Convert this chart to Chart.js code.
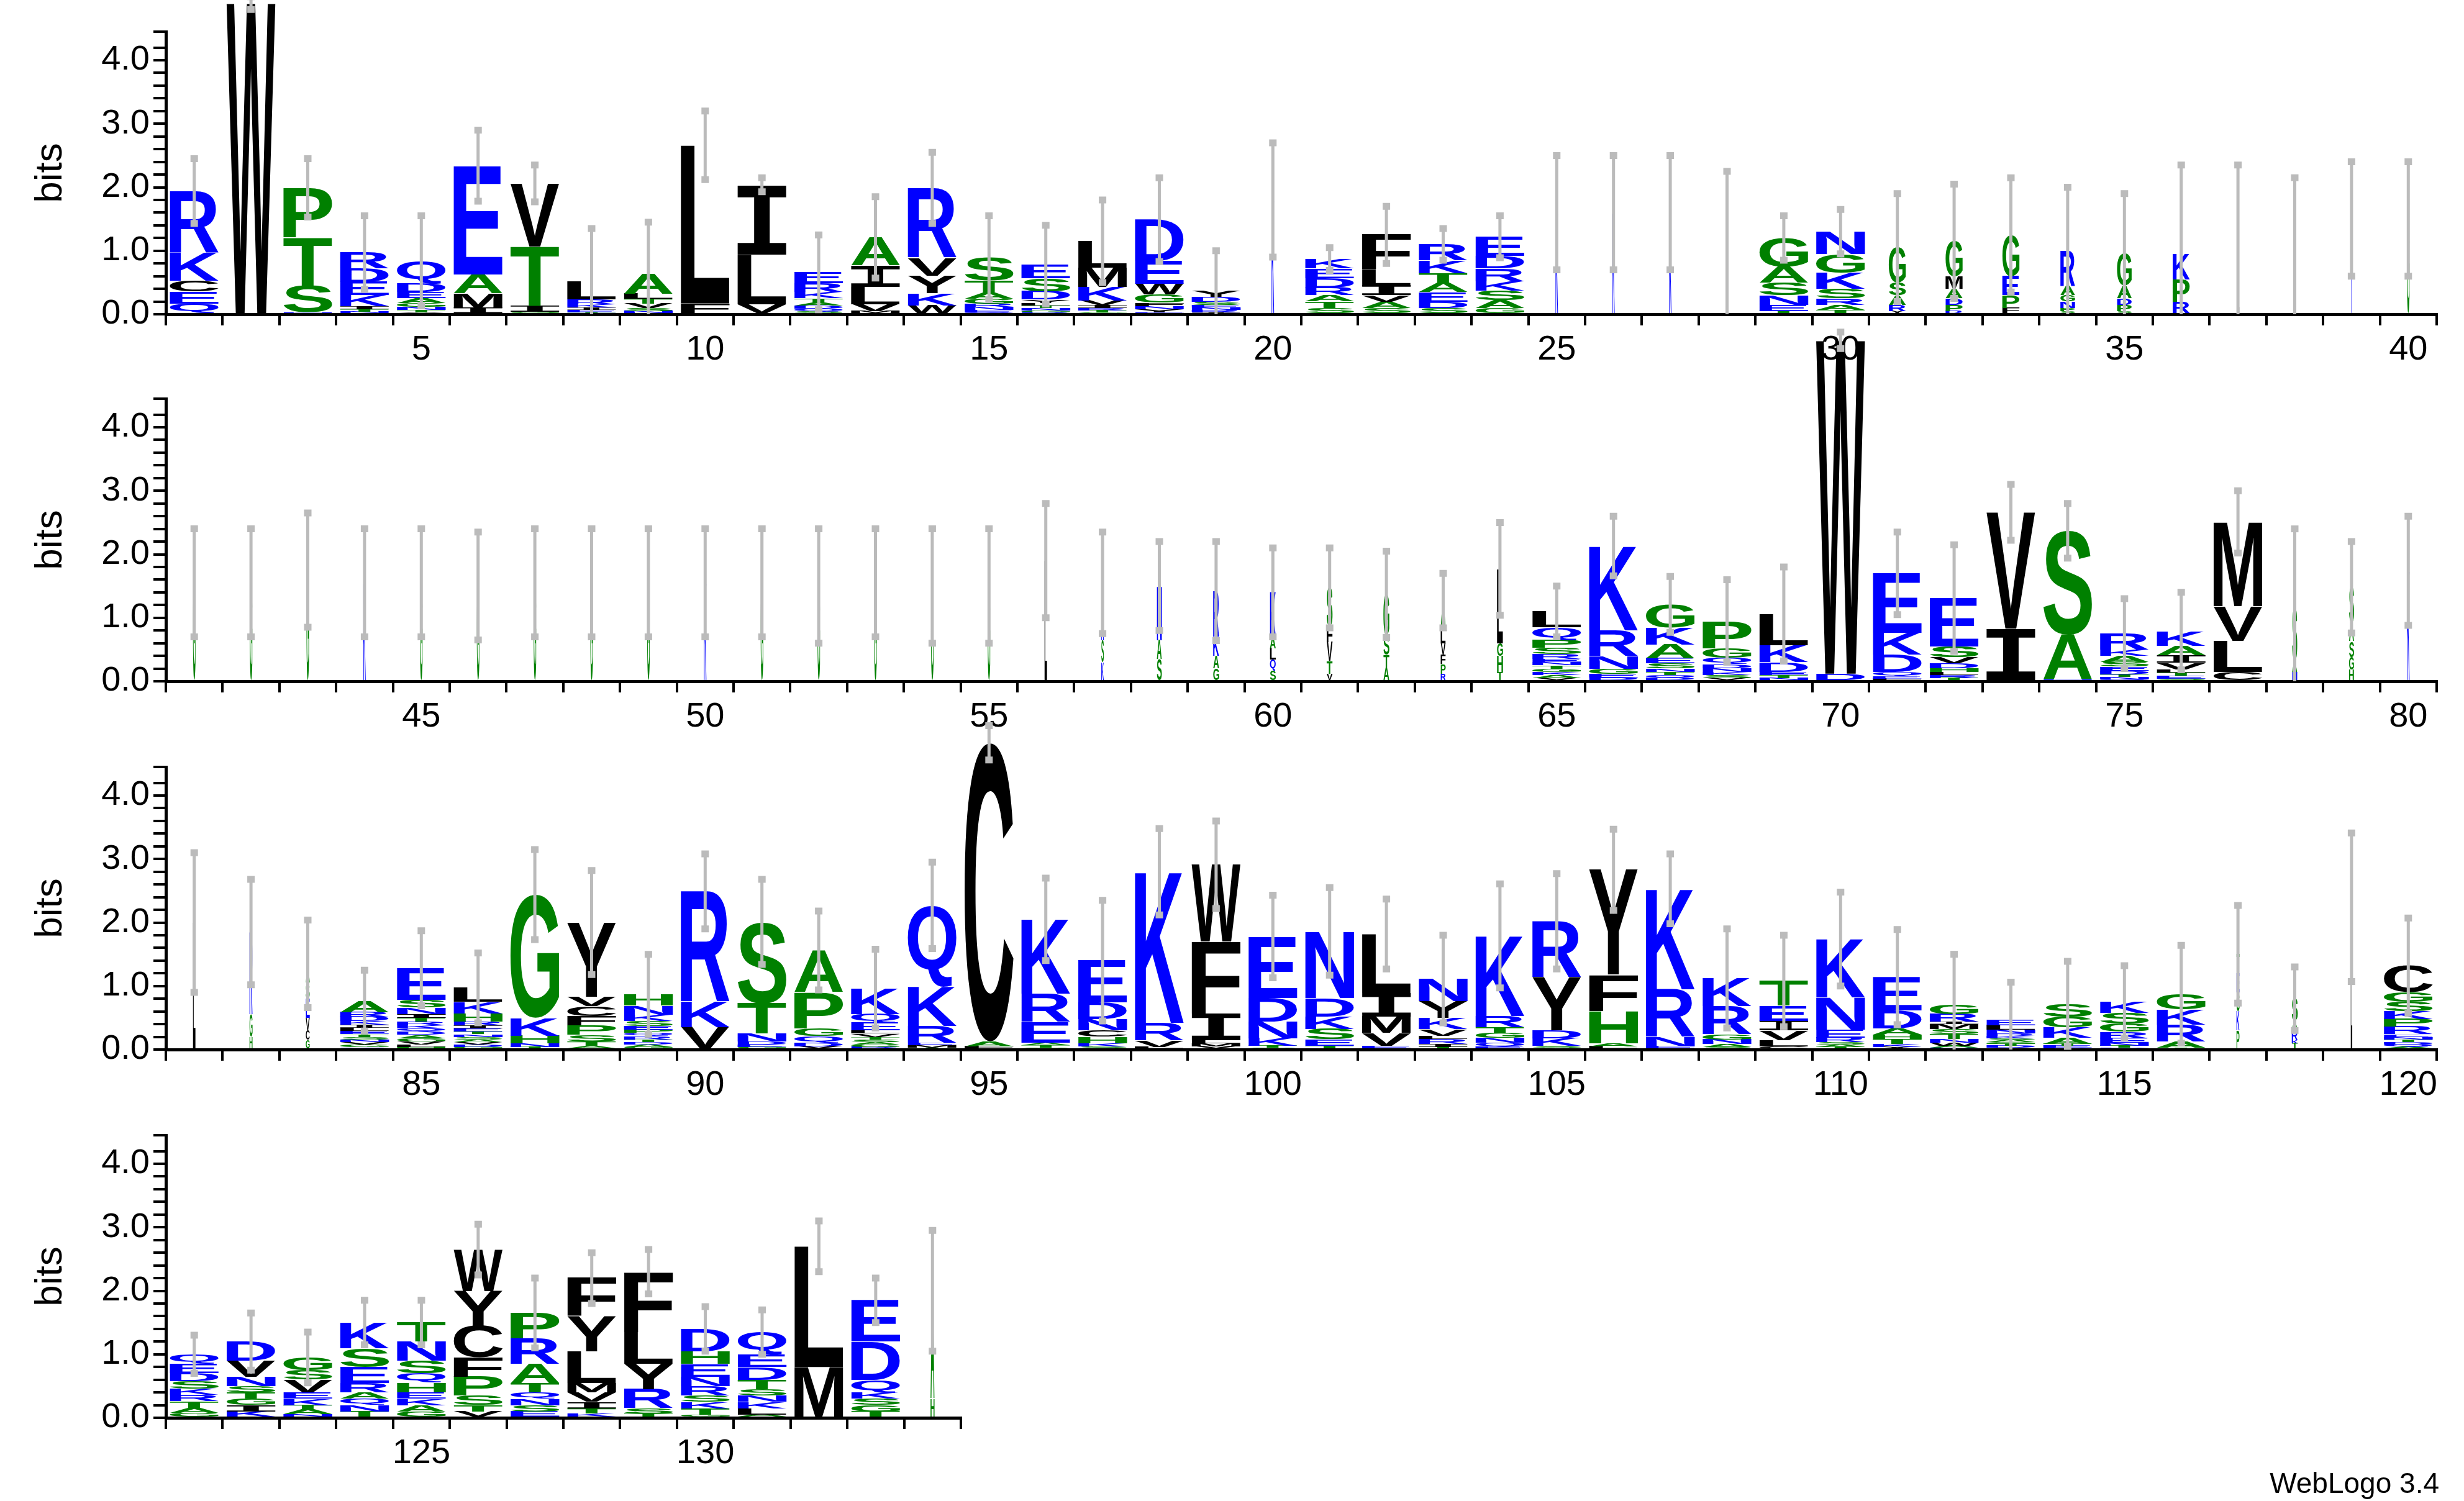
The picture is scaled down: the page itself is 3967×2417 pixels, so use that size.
<!DOCTYPE html>
<html>
<head>
<meta charset="utf-8">
<script src="https://cdn.jsdelivr.net/npm/chart.js@4"></script>
<style>
  body { margin: 0; background: #fff; width: 3967px; height: 2417px; position: relative; overflow: hidden; }
  canvas { position: absolute; left: 0; }
  #credit { position: absolute; right: 40px; bottom: 2px; font: 46px "Liberation Sans", sans-serif; color: #000; }
</style>
</head>
<body>
<canvas id="row1"></canvas>
<canvas id="row2"></canvas>
<canvas id="row3"></canvas>
<canvas id="row4"></canvas>
<div id="credit">WebLogo 3.4</div>
<script>
// each stack: letters top -> bottom, with height in bits
const stacks1 = [
  "R.97 K.44 C.17 E.19 Q.17", "W4.9", "P.78 T.76 S.42 N.03", "R.25 D.21 E.21 K.17 I.05 T.04 N.04",
  "Q.36 D.13 E.1 A.07 G.06 N.05 T.04 V.03", "E1.71 A.3 M.23 I.1", "V.99 T.93 I.1 G.04",
  "L.29 R.07 K.05 I.04 E.04 T.03", "A.32 L.08 T.07 V.07 S.05 N.05", "L2.49 F.17", "I1.1 L.78 V.16",
  "E.17 R.14 K.1 T.06 A.05 D.05 Q.05 S.04", "A.44 I.34 L.27 V.11 M.05", "R1.1 V.28 Y.28 K.19 W.14",
  "S.36 T.19 A.1 G.07 R.05 N.05 E.04 Q.03", "E.21 S.21 D.13 Y.05 L.04 T.04 N.04 G.03 R.03",
  "L.42 M.3 K.21 V.07 I.05 R.04 T.03 G.03", "D.65 E.36 W.17 G.13 F.05 N.05 Y.05 E.03",
  "Y.1 D.07 S.05 E.04 N.04 R.04 I.03", "K1.8", "K.15 E.15 D.15 R.12 A.1 T.1 S.1",
  "F.55 L.25 I.15 V.1 A.1 S.1", "R.25 K.2 T.15 A.15 E.15 D.1 S.1", "E.3 D.2 R.2 K.15 S.15 A.12 G.1",
  "K1.6", "K1.6", "K1.6", "G.5", "G.45 A.25 S.2 N.15 E.1 T.05", "N.35 G.3 K.25 S.15 R.1 A.08 T.07",
  "G.55 S.2 A.15 R.1 Y.05", "G.55 M.2 A.15 D.1 P.1 R.05", "G.65 E.3 P.2 F.1",
  "R.55 A.15 G.1 N.1 P.05 S.05", "G.5 A.2 D.1 P.1 S.05", "K.4 P.35 R.2", "L.6", "G.6", "K1.5", "G1.5"
];
const stacks2 = [
  "G1.55", "G1.55", "G1.75", "K1.55", "G1.55", "G1.5", "G1.55", "G1.55", "G1.55", "K1.55",
  "G1.55", "G1.5", "G1.55", "G1.5", "G1.5", "L1.9", "K.9 S.35 K.3", "N.85 A.3 S.35",
  "R.72 K.3 A.2 G.2", "K.7 A.18 L.18 Q.17 S.17", "S.6 F.25 V.3 T.2 V.12", "G.65 S.3 T.2 A.22",
  "A.42 L.25 V.18 F.15 P.15 R.12", "L1.17 G.2 H.25 T.15",
  "L.25 Q.2 P.12 S.1 R.08 E.05 N.05 T.05 G.05 K.05 A.05 V.05", "K1.33 R.4 N.2 G.08 E.06 D.06",
  "G.36 K.27 A.22 E.08 S.08 N.05 T.05 Q.05 D.05", "P.43 G.15 Q.1 D.06 N.06 K.05 S.05 V.05",
  "L.49 K.27 D.15 E.05 T.05 N.05", "W5.25 D.12", "E.94 K.34 D.27 Q.07 E.04 L.04",
  "E.76 S.17 V.1 D.07 H.06 L.05 R.05 T.05", "V1.83 I.83", "S1.64 A.7 N.03",
  "R.25 K.1 A.1 S.07 E.06 D.06 T.04 N.04 Q.03", "K.23 A.15 I.12 V.1 L.05 T.05 E.05 S.04",
  "M1.33 V.54 L.49 C.15", "S.82 A.18 N.15", "S.55 A.3 S.25 G.2 H.18", "K1.74"
];
const stacks3 = [
  "L2.0", "R1.3 G.35 H.2", "A.3 S.25 E.3 V.2 C.15 G.15",
  "A.18 R.07 D.07 K.06 I.05 L.05 E.05 T.04 S.04 N.04 V.04 G.04 Q.04",
  "E.5 S.12 N.1 I.06 T.06 R.06 K.05 Q.05 D.05 A.05 G.05 V.05 L.04 H.04",
  "L.22 K.18 H.13 R.06 I.05 E.05 T.04 N.04 S.04 A.04 V.04 D.04 G.04",
  "G1.94 K.28 H.12 N.06 T.04", "Y1.17 V.15 C.15 F.15 P.15 S.1 T.08 A.05",
  "H.18 N.14 K.1 S.08 E.06 P.05 Q.05 R.05 T.04 D.04 A.04 G.04", "R1.74 K.4 V.35",
  "S1.28 T.48 N.12 D.05 E.04 G.04", "A.66 P.57 G.12 Q.1 D.06 V.05",
  "K.4 Q.14 E.12 L.05 V.05 T.04 S.04 A.04 G.04 R.04", "Q1.28 K.62 R.26 E.04 M.04 T.03",
  "C4.7 A.08 F.05", "K1.17 R.44 E.33 A.04 T.04 S.03", "E.66 D.26 N.18 C.1 H.1 K.05 S.05",
  "K2.38 R.28 V.1 L.04", "W1.21 F1.13 I.42 L.05 M.05 V.05", "E.97 D.37 N.26 K.12 T.03 S.03",
  "N1.05 D.29 K.2 S.16 E.1 T.06", "L.93 I.37 M.26 V.2 E.06", "N.35 Y.26 K.18 V.1 L.05 R.08 I.05 T.04",
  "K1.26 R.18 T.1 G.07 N.07 Q.07 E.04", "R.88 Y.84 D.12 K.12 S.03 A.03", "Y1.65 F.57 H.51 A.05 L.05",
  "K1.58 R.75 N.15 E.05", "K.44 R.44 G.08 N.07 A.05 S.04", "T.39 E.24 I.15 V.15 L.1 C.05",
  "K.92 N.51 E.12 R.07 S.04 A.04 T.04", "E.52 D.29 A.1 H.07 T.07 K.05 Y.04",
  "G.15 R.12 I.04 M.08 S.08 T.07 N.06 W.05 A.03 D.03",
  "E.08 L.07 N.06 R.04 K.03 S.03 A.03 G.03 T.03 D.03 V.03", "S.2 G.17 K.16 A.1 T.03 E.03 D.03",
  "K.17 S.17 G.13 R.1 E.07 N.05 T.03 D.03", "G.24 K.24 R.26 A.1 T.03", "T.3 E.3 G.3 K.3 P.3",
  "S.35 A.15 R.15 K.05 T.1", "L2.24", "C.42 G.15 S.15 K.12 P.12 R.12 E.04 N.04 T.04 D.04 Q.04 A.04"
];
const stacks4 = [
  "Q.15 E.15 D.12 S.12 K.1 R.1 T.1 A.08 G.08", "D.3 V.25 N.15 S.1 T.1 G.1 I.1 K.1",
  "G.2 S.15 V.2 E.1 K.1 T.07 A.07 N.06", "K.4 S.3 E.25 R.15 A.1 Q.1 N.1 T.1",
  "T.3 N.3 S.2 Q.15 H.15 E.1 K.1 A.1 G.1", "W.65 Y.55 C.5 F.3 P.3 S.15 T.1 V.1",
  "P.4 R.4 A.3 T.15 Q.1 N.1 S.1 E.1", "F.6 Y.55 L.5 M.15 V.15 I.1 T.08 K.07",
  "F.95 L.5 Y.4 R.3 S.08 T.07", "D.35 H.2 E.2 N.15 R.15 S.1 K.1 T.1 G.05",
  "Q.35 E.2 D.2 T.15 S.1 N.1 K.1 L.1 A.05", "L1.9 M.8", "E.65 D.6 Q.2 K.1 S.1 G.1 T.1", "A1.7 H.3"
];
// upper end of the error bar per position (bits)
const errTop1 = [2.45, 5.0, 2.45, 1.55, 1.55, 2.9, 2.35, 1.35, 1.45, 3.2, 2.15, 1.25, 1.85, 2.55, 1.55, 1.4, 1.8, 2.15, 1.0, 2.7,
  1.05, 1.7, 1.35, 1.55, 2.5, 2.5, 2.5, 2.25, 1.55, 1.65, 1.9, 2.05, 2.15, 2.0, 1.9, 2.35, 2.35, 2.15, 2.4, 2.4];
const errTop2 = [2.4, 2.4, 2.65, 2.4, 2.4, 2.35, 2.4, 2.4, 2.4, 2.4, 2.4, 2.4, 2.4, 2.4, 2.4, 2.8, 2.35, 2.2, 2.2, 2.1,
  2.1, 2.05, 1.7, 2.5, 1.5, 2.6, 1.65, 1.6, 1.8, 5.5, 2.35, 2.15, 3.1, 2.8, 1.3, 1.4, 3.0, 2.4, 2.2, 2.6];
const errTop3 = [3.1, 2.68, 2.04, 1.25, 1.87, 1.52, 3.15, 2.82, 1.5, 3.08, 2.68, 2.18, 1.58, 2.95, 5.1, 2.7, 2.35, 3.48, 3.6, 2.43,
  2.55, 2.37, 1.8, 2.61, 2.77, 3.47, 3.08, 1.9, 1.8, 2.48, 1.89, 1.5, 1.06, 1.39, 1.32, 1.64, 2.27, 1.3, 3.41, 2.07];
const errTop4 = [1.3, 1.65, 1.35, 1.85, 1.85, 3.05, 2.2, 2.6, 2.65, 1.75, 1.7, 3.1, 2.2, 2.95];
// column width fraction (positions with many gaps are narrow)
const occupancy = {
  20: .05, 25: .05, 26: .05, 27: .05, 28: .05, 31: .35, 32: .35, 33: .35, 34: .3, 35: .3, 36: .35, 37: .05, 38: .05, 39: .02, 40: .05,
  41: .05, 42: .05, 43: .05, 44: .05, 45: .05, 46: .05, 47: .05, 48: .05, 49: .05, 50: .05, 51: .05, 52: .05, 53: .05, 54: .05,
  55: .05, 56: .05, 57: .05, 58: .1, 59: .12, 60: .12, 61: .12, 62: .12, 63: .1, 64: .12, 78: .1, 79: .1, 80: .05,
  81: .05, 82: .06, 83: .08, 117: .06, 118: .12, 119: .03, 134: .08
};

const colorOf = l => 'WLIVFMYC'.includes(l) ? '#000000' : ('GSTAPH'.includes(l) ? '#008000' : '#0000ff');
const FONT = '"Liberation Sans", "DejaVu Sans", sans-serif';
const SERIF_I = '"Liberation Mono", "DejaVu Sans Mono", monospace';

const logoPlugin = {
  id: 'logo',
  afterDatasetsDraw(chart) {
    const ctx = chart.ctx;
    const ys = chart.scales.y, xs = chart.scales.x;
    const opts = chart.options.plugins.logo;
    chart.data.datasets.forEach((ds, i) => {
      chart.getDatasetMeta(i).data.forEach((el, j) => {
        const letter = ds.letters[j];
        if (!letter) return;
        const p = el.getProps(['x', 'y', 'base', 'width'], true);
        const h = Math.abs(p.base - p.y);
        if (h < 0.6) return;
        const w = p.width * (opts.occ[j] || 1);
        ctx.save();
        ctx.font = 'bold 200px ' + (letter === 'I' ? SERIF_I : FONT);
        ctx.textAlign = 'left';
        ctx.textBaseline = 'alphabetic';
        const m = ctx.measureText(letter);
        const gw = m.actualBoundingBoxLeft + m.actualBoundingBoxRight;
        const gh = m.actualBoundingBoxAscent + m.actualBoundingBoxDescent;
        ctx.translate(p.x - w / 2, Math.min(p.y, p.base));
        ctx.scale(w / gw, h / gh);
        ctx.fillStyle = colorOf(letter);
        ctx.fillText(letter, m.actualBoundingBoxLeft, m.actualBoundingBoxAscent);
        ctx.restore();
      });
    });
    // error bars
    ctx.save();
    ctx.strokeStyle = '#bbbbbb';
    opts.totals.forEach((t, j) => {
      const top = opts.err[j];
      const bot = Math.max(0, 2 * t - top);
      const x = xs.getPixelForValue(j);
      const y1 = ys.getPixelForValue(top), y0 = ys.getPixelForValue(bot);
      ctx.lineWidth = 5;
      ctx.beginPath();
      ctx.moveTo(x, y0); ctx.lineTo(x, y1);
      ctx.stroke();
      ctx.lineWidth = 11;
      ctx.beginPath();
      ctx.moveTo(x - 6, y1); ctx.lineTo(x + 6, y1);
      if (bot > 0) { ctx.moveTo(x - 6, y0); ctx.lineTo(x + 6, y0); }
      ctx.stroke();
    });
    ctx.restore();
  }
};

function makeRow(id, first, stacks, errTop, chartTop, padRight) {
  const canvas = document.getElementById(id);
  const padTop = 150;
  canvas.width = 3967; canvas.height = 700;
  canvas.style.top = (chartTop - padTop) + 'px';
  const positions = stacks.map((s, i) => String(first + i));
  const parsed = stacks.map(s => s.split(' ').map(t => [t[0], parseFloat(t.slice(1))]).reverse());
  const depth = Math.max(...parsed.map(p => p.length));
  const datasets = [];
  for (let k = 0; k < depth; k++) {
    datasets.push({
      data: parsed.map(p => p[k] ? p[k][1] : null),
      letters: parsed.map(p => p[k] ? p[k][0] : null),
      backgroundColor: 'rgba(0,0,0,0)',
      borderWidth: 0
    });
  }
  const occ = positions.map(p => occupancy[p]);
  const totals = parsed.map(p => p.reduce((a, b) => a + b[1], 0));
  new Chart(canvas, {
    type: 'bar',
    data: { labels: positions, datasets },
    plugins: [logoPlugin],
    options: {
      responsive: false, animation: false, devicePixelRatio: 1,
      barPercentage: 0.86, categoryPercentage: 1,
      layout: { padding: { top: padTop, right: padRight, left: 45, bottom: 0 } },
      plugins: { legend: { display: false }, tooltip: { enabled: false }, logo: { occ, totals, err: errTop } },
      scales: {
        x: {
          stacked: true,
          afterFit: s => { s.height = 95; },
          border: { color: '#000', width: 5 },
          grid: { drawOnChartArea: false, color: '#000', tickLength: 18, lineWidth: 4 },
          ticks: {
            autoSkip: false, maxRotation: 0, color: '#000', padding: 6,
            font: { family: FONT, size: 56 },
            callback: function (v) { const l = +this.getLabelForValue(v); return l % 5 === 0 ? String(l) : ''; }
          }
        },
        y: {
          stacked: true, min: 0, max: 4.45,
          afterFit: s => { s.width = 222; },
          border: { color: '#000', width: 5 },
          grid: { drawOnChartArea: false, color: '#000', tickLength: 20, lineWidth: 4 },
          title: { display: true, text: 'bits', color: '#000', font: { family: FONT, size: 62 }, padding: 0 },
          ticks: {
            stepSize: 0.2, color: '#000', padding: 6, autoSkip: false,
            font: { family: FONT, size: 56 },
            callback: v => Math.abs(v - Math.round(v)) < 1e-6 ? v.toFixed(1) : ''
          }
        }
      }
    }
  });
}

makeRow('row1', 1, stacks1, errTop1, 51, 44);
makeRow('row2', 41, stacks2, errTop2, 642, 44);
makeRow('row3', 81, stacks3, errTop3, 1235, 44);
makeRow('row4', 121, stacks4, errTop4, 1828, 2420);
</script>
</body>
</html>
